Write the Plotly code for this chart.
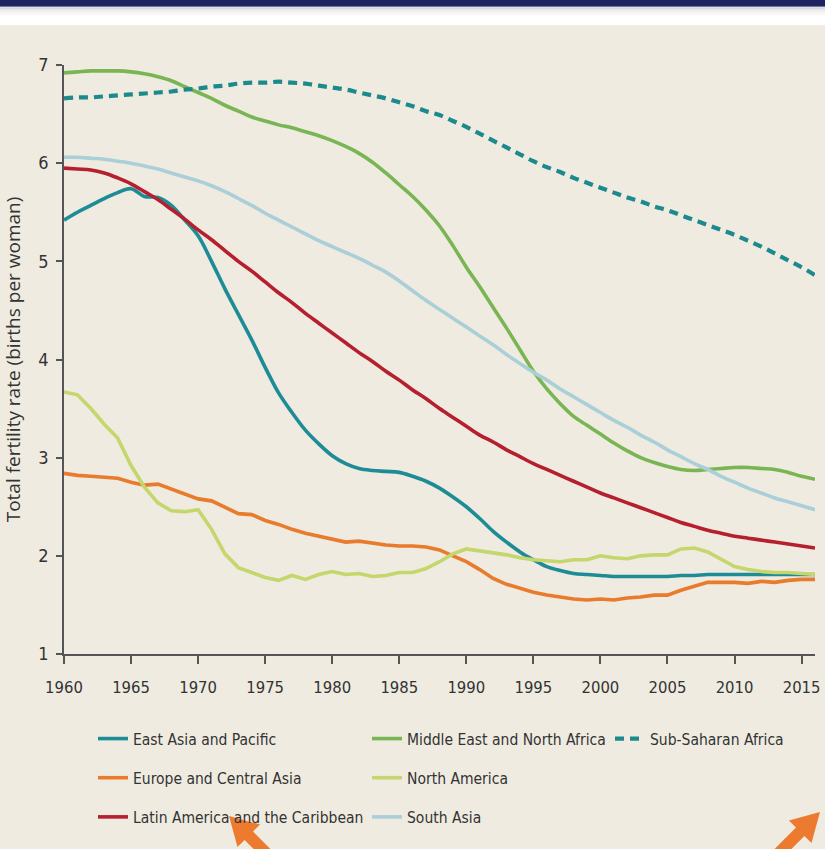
import plotly.graph_objects as go

years = list(range(1960, 2017))

east_asia = [5.42, 5.50, 5.57, 5.64, 5.70, 5.74, 5.66, 5.65, 5.57, 5.42,
             5.26, 5.00, 4.72, 4.46, 4.20, 3.92, 3.66, 3.46, 3.28, 3.14,
             3.02, 2.94, 2.89, 2.87, 2.86, 2.85, 2.81, 2.76, 2.69, 2.60,
             2.50, 2.38, 2.25, 2.14, 2.04, 1.96, 1.89, 1.85, 1.82, 1.81,
             1.80, 1.79, 1.79, 1.79, 1.79, 1.79, 1.80, 1.80, 1.81, 1.81,
             1.81, 1.81, 1.81, 1.81, 1.81, 1.81, 1.81]
europe = [2.84, 2.82, 2.81, 2.80, 2.79, 2.75, 2.72, 2.73, 2.68, 2.63,
          2.58, 2.56, 2.50, 2.43, 2.42, 2.36, 2.32, 2.27, 2.23, 2.20,
          2.17, 2.14, 2.15, 2.13, 2.11, 2.10, 2.10, 2.09, 2.06, 2.00,
          1.94, 1.86, 1.77, 1.71, 1.67, 1.63, 1.60, 1.58, 1.56, 1.55,
          1.56, 1.55, 1.57, 1.58, 1.60, 1.60, 1.65, 1.69, 1.73, 1.73,
          1.73, 1.72, 1.74, 1.73, 1.75, 1.76, 1.76]
latin_america = [5.95, 5.94, 5.93, 5.90, 5.85, 5.79, 5.71, 5.63, 5.53, 5.43,
                 5.32, 5.22, 5.11, 5.00, 4.90, 4.79, 4.68, 4.58, 4.47, 4.37,
                 4.27, 4.17, 4.07, 3.98, 3.88, 3.79, 3.69, 3.60, 3.50, 3.41,
                 3.32, 3.23, 3.16, 3.08, 3.01, 2.94, 2.88, 2.82, 2.76, 2.70,
                 2.64, 2.59, 2.54, 2.49, 2.44, 2.39, 2.34, 2.30, 2.26, 2.23,
                 2.20, 2.18, 2.16, 2.14, 2.12, 2.10, 2.08]
mena = [6.92, 6.93, 6.94, 6.94, 6.94, 6.93, 6.91, 6.88, 6.84, 6.78,
        6.72, 6.66, 6.59, 6.53, 6.47, 6.43, 6.39, 6.36, 6.32, 6.28,
        6.23, 6.17, 6.10, 6.01, 5.90, 5.78, 5.66, 5.52, 5.36, 5.16,
        4.94, 4.74, 4.53, 4.32, 4.10, 3.88, 3.70, 3.55, 3.42, 3.33,
        3.24, 3.15, 3.07, 3.00, 2.95, 2.91, 2.88, 2.87, 2.88, 2.89,
        2.90, 2.90, 2.89, 2.88, 2.85, 2.81, 2.78]
north_america = [3.67, 3.64, 3.50, 3.34, 3.20, 2.92, 2.70, 2.54, 2.46, 2.45,
                 2.47, 2.27, 2.02, 1.88, 1.83, 1.78, 1.75, 1.80, 1.76, 1.81,
                 1.84, 1.81, 1.82, 1.79, 1.80, 1.83, 1.83, 1.87, 1.94, 2.02,
                 2.07, 2.05, 2.03, 2.01, 1.98, 1.96, 1.95, 1.94, 1.96, 1.96,
                 2.00, 1.98, 1.97, 2.00, 2.01, 2.01, 2.07, 2.08, 2.04, 1.96,
                 1.89, 1.86, 1.84, 1.83, 1.83, 1.82, 1.81]
south_asia = [6.06, 6.06, 6.05, 6.04, 6.02, 6.00, 5.97, 5.94, 5.90, 5.86,
              5.82, 5.77, 5.71, 5.64, 5.57, 5.49, 5.42, 5.35, 5.28, 5.21,
              5.15, 5.09, 5.03, 4.96, 4.89, 4.80, 4.70, 4.60, 4.51, 4.42,
              4.33, 4.24, 4.15, 4.05, 3.96, 3.87, 3.79, 3.70, 3.62, 3.54,
              3.46, 3.38, 3.31, 3.23, 3.16, 3.08, 3.01, 2.94, 2.88, 2.81,
              2.75, 2.69, 2.64, 2.59, 2.55, 2.51, 2.47]
sub_saharan = [6.66, 6.67, 6.67, 6.68, 6.69, 6.70, 6.71, 6.72, 6.73, 6.75,
               6.76, 6.78, 6.79, 6.81, 6.82, 6.82, 6.83, 6.82, 6.81, 6.79,
               6.77, 6.75, 6.72, 6.69, 6.66, 6.62, 6.58, 6.53, 6.49, 6.43,
               6.37, 6.30, 6.23, 6.16, 6.09, 6.02, 5.96, 5.91, 5.85, 5.80,
               5.75, 5.70, 5.65, 5.61, 5.56, 5.52, 5.47, 5.42, 5.37, 5.32,
               5.27, 5.21, 5.15, 5.08, 5.01, 4.94, 4.86]

x_ticks = list(range(1960, 2016, 5))
y_ticks = [1, 2, 3, 4, 5, 6, 7]

series = [
    ("East Asia and Pacific", east_asia, "#1d8c96", "solid", "legend", "spline"),
    ("Europe and Central Asia", europe, "#e97b2c", "solid", "legend", "linear"),
    ("Latin America and the Caribbean", latin_america, "#b61f2e", "solid", "legend", "spline"),
    ("Middle East and North Africa", mena, "#79b653", "solid", "legend2", "spline"),
    ("North America", north_america, "#c5d66c", "solid", "legend2", "linear"),
    ("South Asia", south_asia, "#aacfd8", "solid", "legend2", "spline"),
    ("Sub-Saharan Africa", sub_saharan, "#1c8a8c", "9px,6px", "legend3", "spline"),
]

BG = "#efebe1"
NARROW = "DejaVu Sans Condensed, Liberation Sans Narrow, sans-serif"

W, H = 825, 849
ML, MR, MT, MB = 64, 10, 65, 195
PW, PH = W - ML - MR, H - MT - MB


def px(xp):
    return (xp - ML) / PW


def py(yp):
    return (H - MB - yp) / PH


fig = go.Figure()
for name, vals, color, dash, leg, shape in series:
    line = dict(color=color, width=3.6 if dash == "solid" else 4.2, dash=dash, shape=shape)
    if shape == "spline":
        line["smoothing"] = 1.0
    fig.add_trace(go.Scatter(
        x=years, y=vals, mode="lines", name=name, line=line,
        legend=leg, legendgroup=name,
    ))

shapes = [
    dict(type="rect", xref="paper", yref="paper", x0=px(0), x1=px(W), y0=py(25), y1=py(0),
         fillcolor="white", line=dict(width=0), layer="below"),
]
for i, c in enumerate(["#c9cad2", "#d8d9de", "#e4e5e8", "#eeeef0", "#f5f5f6", "#fafafa"]):
    shapes.append(dict(type="rect", xref="paper", yref="paper", x0=px(0), x1=px(W),
                       y0=py(7.6 + i * 1.6), y1=py(6 + i * 1.6), fillcolor=c, line=dict(width=0), layer="below"))
shapes.append(dict(type="rect", xref="paper", yref="paper", x0=px(0), x1=px(W), y0=py(6.5), y1=py(0),
                   fillcolor="#1f2360", line=dict(width=0), layer="below"))


def arrow(points):
    return "M " + " L ".join(f"{px(a):.5f},{py(b):.5f}" for a, b in points) + " Z"


arrow1 = [(229, 816), (260.1, 824.5), (253.0, 831.6), (274.2, 852.8), (265.8, 861.2), (244.6, 840.0), (237.5, 847.1)]
arrow2 = [(820, 812), (811.5, 843.1), (804.4, 836.0), (783.2, 857.2), (774.8, 848.8), (796.0, 827.6), (788.9, 820.5)]
for pts in (arrow1, arrow2):
    shapes.append(dict(type="path", xref="paper", yref="paper", path=arrow(pts),
                       fillcolor="#ec7b30", line=dict(width=0), layer="above"))

leg_common = dict(orientation="v", xanchor="left", yanchor="top",
                  bgcolor="rgba(0,0,0,0)", font=dict(family=NARROW, size=15.5, color="#333333"),
                  tracegroupgap=16, itemwidth=30)

fig.update_layout(
    width=W, height=H,
    margin=dict(l=ML, r=MR, t=MT, b=MB, autoexpand=False),
    paper_bgcolor=BG, plot_bgcolor=BG,
    showlegend=True,
    shapes=shapes,
    legend=dict(x=px(93), y=py(722), **leg_common),
    legend2=dict(x=px(367), y=py(722), **leg_common),
    legend3=dict(x=px(610), y=py(722), **leg_common),
    xaxis=dict(range=[1960, 2016], tickvals=x_ticks, ticks="outside", ticklen=8, tickwidth=1.5,
               tickcolor="#555555", showline=True, linecolor="#555555", linewidth=2,
               showgrid=False, zeroline=False, ticklabelstandoff=9,
               tickfont=dict(family=NARROW, size=16.5, color="#333333")),
    yaxis=dict(range=[1, 7], tickvals=y_ticks, ticks="outside", ticklen=6, tickwidth=1.5,
               tickcolor="#555555", showline=True, linecolor="#555555", linewidth=1.5,
               showgrid=False, zeroline=False, ticklabelstandoff=4,
               tickfont=dict(family=NARROW, size=18, color="#333333"),
               title=dict(text="Total fertility rate (births per woman)",
                          font=dict(family="Open Sans, DejaVu Sans, sans-serif", size=19, color="#333333"))),
)

fig.write_html("out.html", config={"displayModeBar": False},
               post_script="document.body.style.margin='0';")
